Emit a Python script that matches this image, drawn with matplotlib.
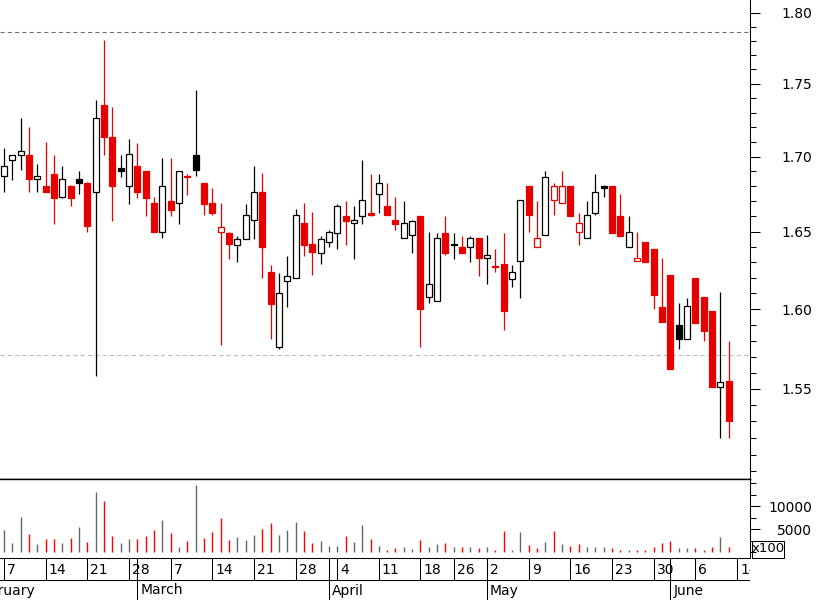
#!/usr/bin/env python3
# daily candlestick chart with volume panel, Feb - Jun 2011
import numpy as np
import pandas as pd
import matplotlib
matplotlib.use("Agg")
import matplotlib.pyplot as plt
from matplotlib.ticker import FixedLocator, FixedFormatter, NullFormatter

# one entry per trading day, 7 Feb .. 10 Jun 2011
opens = [1.687, 1.698, 1.701, 1.701, 1.685, 1.680, 1.688, 1.673, 1.680, 1.685,
         1.682, 1.676, 1.735, 1.713, 1.692, 1.680, 1.694, 1.690, 1.669, 1.650,
         1.670, 1.669, 1.687, 1.701, 1.682, 1.669, 1.650, 1.649, 1.641, 1.645,
         1.658, 1.676, 1.624, 1.576, 1.618, 1.620, 1.656, 1.642, 1.636, 1.643,
         1.649, 1.660, 1.656, 1.660, 1.662, 1.675, 1.667, 1.658, 1.646, 1.648,
         1.660, 1.608, 1.605, 1.649, 1.642, 1.640, 1.640, 1.646, 1.633, 1.6275,
         1.629, 1.619, 1.631, 1.680, 1.640, 1.648, 1.671, 1.669, 1.680, 1.650,
         1.646, 1.662, 1.680, 1.680, 1.660, 1.640, 1.631, 1.643, 1.639, 1.601,
         1.622, 1.590, 1.581, 1.620, 1.608, 1.599, 1.551, 1.555]
highs = [1.706, 1.701, 1.726, 1.720, 1.695, 1.710, 1.701, 1.694, 1.681, 1.690,
         1.683, 1.739, 1.781, 1.734, 1.701, 1.712, 1.709, 1.690, 1.673, 1.699,
         1.699, 1.690, 1.688, 1.746, 1.682, 1.679, 1.669, 1.650, 1.647, 1.668,
         1.694, 1.689, 1.628, 1.623, 1.634, 1.665, 1.669, 1.663, 1.647, 1.651,
         1.668, 1.670, 1.667, 1.698, 1.688, 1.688, 1.682, 1.673, 1.670, 1.658,
         1.660, 1.650, 1.649, 1.660, 1.649, 1.647, 1.647, 1.646, 1.648, 1.639,
         1.649, 1.628, 1.671, 1.680, 1.670, 1.690, 1.682, 1.690, 1.680, 1.662,
         1.670, 1.688, 1.681, 1.680, 1.675, 1.660, 1.650, 1.643, 1.639, 1.633,
         1.622, 1.604, 1.607, 1.620, 1.608, 1.599, 1.611, 1.580]
lows = [1.676, 1.684, 1.691, 1.676, 1.676, 1.676, 1.655, 1.672, 1.667, 1.675,
        1.650, 1.558, 1.701, 1.657, 1.686, 1.668, 1.672, 1.660, 1.650, 1.646,
        1.660, 1.655, 1.674, 1.687, 1.661, 1.661, 1.577, 1.632, 1.630, 1.645,
        1.645, 1.620, 1.581, 1.575, 1.601, 1.620, 1.634, 1.622, 1.629, 1.640,
        1.639, 1.641, 1.632, 1.655, 1.660, 1.662, 1.661, 1.651, 1.646, 1.636,
        1.576, 1.604, 1.605, 1.635, 1.632, 1.636, 1.630, 1.621, 1.616, 1.624,
        1.587, 1.614, 1.607, 1.650, 1.640, 1.648, 1.661, 1.669, 1.660, 1.641,
        1.646, 1.661, 1.673, 1.649, 1.647, 1.640, 1.631, 1.630, 1.600, 1.592,
        1.562, 1.575, 1.581, 1.591, 1.580, 1.551, 1.520, 1.520]
closes = [1.694, 1.701, 1.704, 1.685, 1.687, 1.676, 1.672, 1.685, 1.672, 1.682,
          1.654, 1.726, 1.713, 1.680, 1.690, 1.702, 1.676, 1.672, 1.650, 1.680,
          1.664, 1.690, 1.686, 1.691, 1.668, 1.662, 1.653, 1.642, 1.645, 1.661,
          1.676, 1.640, 1.603, 1.610, 1.621, 1.661, 1.641, 1.637, 1.645, 1.650,
          1.667, 1.657, 1.658, 1.671, 1.661, 1.682, 1.661, 1.655, 1.656, 1.657,
          1.600, 1.616, 1.646, 1.636, 1.641, 1.636, 1.646, 1.633, 1.635, 1.627,
          1.599, 1.624, 1.671, 1.661, 1.646, 1.686, 1.680, 1.680, 1.660, 1.656,
          1.661, 1.676, 1.679, 1.649, 1.647, 1.650, 1.633, 1.630, 1.609, 1.592,
          1.562, 1.581, 1.602, 1.591, 1.586, 1.551, 1.554, 1.530]
# volume in hundreds of shares
volumes = [4800, 1950, 7600, 4000, 1750, 2850, 2850, 1950, 3050, 5450,
           2200, 13050, 11100, 3500, 1950, 2850, 2850, 3500, 4800, 6950,
           4150, 1100, 2400, 14550, 3050, 4350, 7400, 2600, 3250, 2600,
           3700, 5000, 6300, 3700, 4800, 6500, 4550, 1950, 2400, 1300,
           1300, 3500, 2200, 5850, 2850, 1300, 450, 850, 1100, 650,
           2600, 1100, 1750, 1950, 1100, 1100, 1100, 850, 1100, 450,
           4550, 450, 4350, 1500, 850, 2200, 4550, 1750, 1300, 1750,
           1100, 1100, 1100, 850, 450, 450, 450, 450, 1100, 1950,
           2400, 850, 850, 850, 450, 1100, 3250, 1100]

# reference lines drawn across the price panel
refHigh = 1.7862
refLow = 1.5711

priceTicks = [1.55, 1.60, 1.65, 1.70, 1.75, 1.80]
volTicks = [5000, 10000]

# ASX holidays inside the window (Good Friday, Easter Monday/Anzac, Queen's birthday)
holidays = ['2011-04-22', '2011-04-25', '2011-06-13']
firstDay = '2011-02-07'

RED = '#e60000'
BLACK = '#000000'
LW = 0.75  # ~1 pixel

o = np.array(opens)
h = np.array(highs)
l = np.array(lows)
c = np.array(closes)
v = np.array(volumes)
n = len(c)
x = np.arange(n)

# colour by change versus previous close, fill by close vs open
prevC = np.r_[c[0] - 1, c[:-1]]
cndlCol = np.where(c > prevC, BLACK, RED)
faceCol = np.where(c < o, cndlCol, 'white')
volCol = np.where(c < prevC, '#ff0000', '#666666')
volCol[0] = '#666666'

W, H = 817, 600
fig = plt.figure(figsize=(W / 100, H / 100), dpi=100)
axRight = 750 / W
axP = fig.add_axes([0, (H - 479) / H, axRight, 479 / H])
axV = fig.add_axes([0, (H - 558) / H, axRight, (558 - 479) / H])
axD = fig.add_axes([0, 0, axRight, 42 / H])

xlim = (-0.48, 89.56)

# ---- price panel ----
axP.set_yscale('log')
axP.vlines(x, l, h, colors=cndlCol, linewidth=0.9, zorder=2)
axP.bar(x, np.abs(c - o), bottom=np.minimum(o, c), width=0.72,
        color=faceCol, edgecolor=cndlCol, linewidth=0.9, zorder=3)
axP.axhline(refHigh, color='#707070', linewidth=LW, linestyle=(0, (4, 3)), zorder=1)
axP.axhline(refLow, color='#bdbdbd', linewidth=LW, linestyle=(0, (4, 3)), zorder=1)
axP.set_xlim(*xlim)
axP.set_ylim(1.4954, 1.8093)

minorP = [round(1.50 + 0.01 * k, 2) for k in range(31)]
minorP = [t for t in minorP if t not in priceTicks]
axP.yaxis.set_major_locator(FixedLocator(priceTicks))
axP.yaxis.set_major_formatter(FixedFormatter(['%.2f' % t for t in priceTicks]))
axP.yaxis.set_minor_locator(FixedLocator(minorP))
axP.yaxis.set_minor_formatter(NullFormatter())

# ---- volume panel ----
axV.vlines(x, 0, v, colors=volCol, linewidth=1.0)
axV.set_xlim(*xlim)
axV.set_ylim(-1304, 15870)
axV.yaxis.set_major_locator(FixedLocator(volTicks))
axV.yaxis.set_major_formatter(FixedFormatter([str(t) for t in volTicks]))
axV.yaxis.set_minor_locator(FixedLocator([0, 2500, 7500, 12500, 15000]))
axV.yaxis.set_minor_formatter(NullFormatter())

for ax in (axP, axV):
    ax.set_facecolor('white')
    ax.spines['left'].set_visible(False)
    ax.spines['top'].set_visible(False)
    ax.spines['right'].set_linewidth(LW)
    ax.spines['bottom'].set_linewidth(LW)
    ax.xaxis.set_visible(False)
    ax.yaxis.tick_right()
    ax.tick_params(axis='y', which='major', direction='out', length=7.2,
                   width=LW, pad=37.4, labelsize=10, colors='black')
    ax.tick_params(axis='y', which='minor', direction='out', length=4.0, width=LW)
    for lbl in ax.get_yticklabels():
        lbl.set_horizontalalignment('right')
# divider between price and volume panels
axP.spines['bottom'].set_linewidth(1.0)
axV.spines['top'].set_visible(True)
axV.spines['top'].set_linewidth(1.0)

# "x100" unit box for the volume scale
fig.add_artist(plt.Rectangle((752 / W, (H - 558) / H), 32 / W, 17 / H,
                             transform=fig.transFigure, fill=False,
                             edgecolor='black', linewidth=LW))
fig.text(768 / W, (H - 549) / H, 'x100', ha='center', va='center', fontsize=9.5)

# ---- date axis ----
days = pd.bdate_range('2011-01-31', '2011-06-17')
days = days[~days.isin(pd.to_datetime(holidays))]
dx = np.arange(len(days)) - list(days).index(pd.Timestamp(firstDay))

axD.set_xlim(*xlim)
axD.set_ylim(42, 0)
axD.axis('off')
axD.axhline(22, color='black', linewidth=LW)
for i in range(1, len(days)):
    d, prev = days[i], days[i - 1]
    if d.weekday() < prev.weekday():
        axD.vlines(dx[i], 0, 22, colors='black', linewidth=LW)
        t = axD.text(dx[i] + 0.36, 11.5, str(d.day), ha='left', va='center',
                     fontsize=10)
        t.set_clip_box(axD.bbox)
        t.set_clip_on(True)
    if d.month != prev.month:
        axD.vlines(dx[i], 0, 42, colors='black', linewidth=LW)
        t = axD.text(dx[i] + 0.36, 32.5, d.strftime('%B'), ha='left', va='center',
                     fontsize=10)
        t.set_clip_box(axD.bbox)
        t.set_clip_on(True)

fig.savefig('out.png', dpi=100, facecolor='white')
